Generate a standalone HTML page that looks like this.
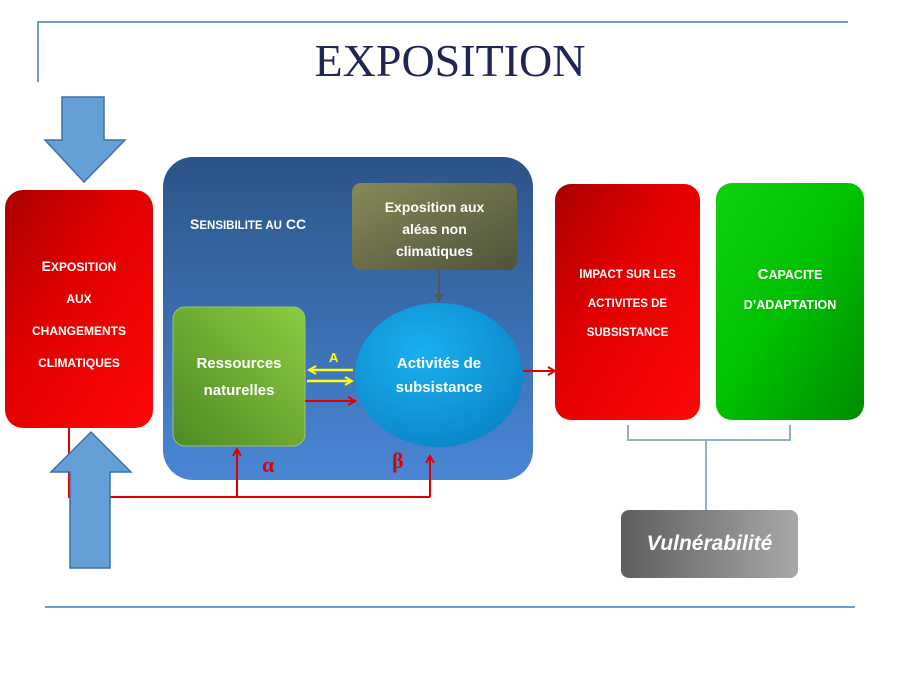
<!DOCTYPE html>
<html><head><meta charset="utf-8"><style>
body{margin:0;width:900px;height:675px;background:#fff;position:relative;overflow:hidden;font-family:"Liberation Sans","DejaVu Sans",sans-serif}
.a{position:absolute}
.t{color:#fff;font-weight:bold;text-align:center;position:absolute}
</style></head><body>
<svg class="a" style="left:0;top:0" width="900" height="675">
<defs>
<linearGradient id="red" x1="0" y1="0" x2="1" y2="1"><stop offset="0" stop-color="#a80000"/><stop offset="0.4" stop-color="#e00000"/><stop offset="1" stop-color="#ff0808"/></linearGradient>
<linearGradient id="blue" x1="0" y1="0" x2="0" y2="1"><stop offset="0" stop-color="#2b5487"/><stop offset="1" stop-color="#4a86d6"/></linearGradient>
<linearGradient id="brown" x1="0" y1="0" x2="1" y2="1"><stop offset="0" stop-color="#868a58"/><stop offset="1" stop-color="#4f5238"/></linearGradient>
<linearGradient id="grn" x1="1" y1="0" x2="0" y2="1"><stop offset="0" stop-color="#8ccc40"/><stop offset="1" stop-color="#4e8a24"/></linearGradient>
<radialGradient id="ell" cx="0.4" cy="0.35" r="0.7"><stop offset="0" stop-color="#1ab0f0"/><stop offset="1" stop-color="#0a86c8"/></radialGradient>
<linearGradient id="cap" x1="0" y1="0" x2="1" y2="1"><stop offset="0" stop-color="#10d010"/><stop offset="0.5" stop-color="#00c000"/><stop offset="1" stop-color="#008a00"/></linearGradient>
<linearGradient id="gray" x1="0" y1="0" x2="1" y2="0"><stop offset="0" stop-color="#5e5e5e"/><stop offset="1" stop-color="#a8a8a8"/></linearGradient>
<marker id="rh" markerWidth="10" markerHeight="10" refX="8" refY="5" orient="auto" markerUnits="userSpaceOnUse"><path d="M1,1 L8,5 L1,9" fill="none" stroke="#e00000" stroke-width="2"/></marker>
<marker id="yh" markerWidth="10" markerHeight="10" refX="8" refY="5" orient="auto" markerUnits="userSpaceOnUse"><path d="M1,1 L8,5 L1,9" fill="none" stroke="#ffff00" stroke-width="2"/></marker>
<marker id="gh" markerWidth="10" markerHeight="10" refX="8" refY="5" orient="auto" markerUnits="userSpaceOnUse"><path d="M0,1 L9,5 L0,9z" fill="#555"/></marker>
</defs>
<path d="M38,82 V22 H848" fill="none" stroke="#6f9bcf" stroke-width="2"/>
<line x1="45" y1="607" x2="855" y2="607" stroke="#6f9bcf" stroke-width="2"/>
<path d="M62,97 H104 V140 H125 L84,182 L45,140 H62 Z" fill="#64a0d6" stroke="#3e6fa6" stroke-width="1.5"/>
<rect x="5" y="190" width="148" height="238" rx="18" fill="url(#red)"/>
<rect x="163" y="157" width="370" height="323" rx="30" fill="url(#blue)"/>
<rect x="352" y="183" width="165" height="87" rx="9" fill="url(#brown)"/>
<line x1="439" y1="270" x2="439" y2="302" stroke="#555" stroke-width="2" marker-end="url(#gh)"/>
<rect x="173" y="307" width="132" height="139" rx="12" fill="url(#grn)" stroke="#a0c070" stroke-width="1"/>
<ellipse cx="439" cy="375" rx="84" ry="72" fill="url(#ell)"/>
<line x1="353" y1="370" x2="309" y2="370" stroke="#ffff00" stroke-width="2.5" marker-end="url(#yh)"/>
<line x1="307" y1="381" x2="352" y2="381" stroke="#ffff00" stroke-width="2.5" marker-end="url(#yh)"/>
<line x1="305" y1="401" x2="355" y2="401" stroke="#e00000" stroke-width="2" marker-end="url(#rh)"/>
<line x1="523" y1="371" x2="555" y2="371" stroke="#e00000" stroke-width="2" marker-end="url(#rh)"/>
<path d="M69,428 V497 H430" fill="none" stroke="#e00000" stroke-width="2"/>
<line x1="237" y1="497" x2="237" y2="449" stroke="#e00000" stroke-width="2" marker-end="url(#rh)"/>
<line x1="430" y1="497" x2="430" y2="456" stroke="#e00000" stroke-width="2" marker-end="url(#rh)"/>
<path d="M70,568 V472 H51 L91,432 L131,472 H110 V568 Z" fill="#64a0d6" stroke="#3e6fa6" stroke-width="1.5"/>
<rect x="555" y="184" width="145" height="236" rx="16" fill="url(#red)"/>
<rect x="716" y="183" width="148" height="237" rx="16" fill="url(#cap)"/>
<path d="M628,425 V440 H790 V425 M706,440 V510" fill="none" stroke="#8fb0cc" stroke-width="2"/>
<rect x="621" y="510" width="177" height="68" rx="8" fill="url(#gray)"/>
<text x="450" y="76" text-anchor="middle" font-family="Liberation Serif, serif" font-size="46" fill="#1f2656">EXPOSITION</text>
<text x="262" y="472" font-family="Liberation Serif, serif" font-size="22" font-weight="bold" fill="#e00000">α</text>
<text x="392" y="468" font-family="Liberation Serif, serif" font-size="22" font-weight="bold" fill="#e00000">β</text>
<text x="329" y="362" font-size="13" font-weight="bold" fill="#ffff00">A</text>
</svg>
<div class="t" style="left:5px;top:251px;width:148px;font-size:14px;line-height:31px">E<span style="font-size:12px">XPOSITION</span><br><span style="font-size:12px">AUX<br>CHANGEMENTS<br>CLIMATIQUES</span></div>
<div class="t" style="left:190px;top:216px;font-size:14px;text-align:left">S<span style="font-size:11.5px">ENSIBILITE AU</span> CC</div>
<div class="t" style="left:352px;top:196px;width:165px;font-size:14px;line-height:22px">Exposition aux<br>aléas non<br>climatiques</div>
<div class="t" style="left:173px;top:350px;width:132px;font-size:15px;line-height:27px">Ressources<br>naturelles</div>
<div class="t" style="left:355px;top:352px;width:168px;font-size:15px;line-height:24px">Activités de<br>subsistance</div>
<div class="t" style="left:555px;top:260px;width:145px;font-size:13px;line-height:28px">I<span style="font-size:11.5px">MPACT SUR LES<br>ACTIVITES DE<br>SUBSISTANCE</span></div>
<div class="t" style="left:716px;top:260px;width:148px;font-size:15px;line-height:30px">C<span style="font-size:12.5px">APACITE<br>D’ADAPTATION</span></div>
<div class="t" style="left:621px;top:532px;width:177px;font-size:21px;font-style:italic">Vulnérabilité</div>
</body></html>
